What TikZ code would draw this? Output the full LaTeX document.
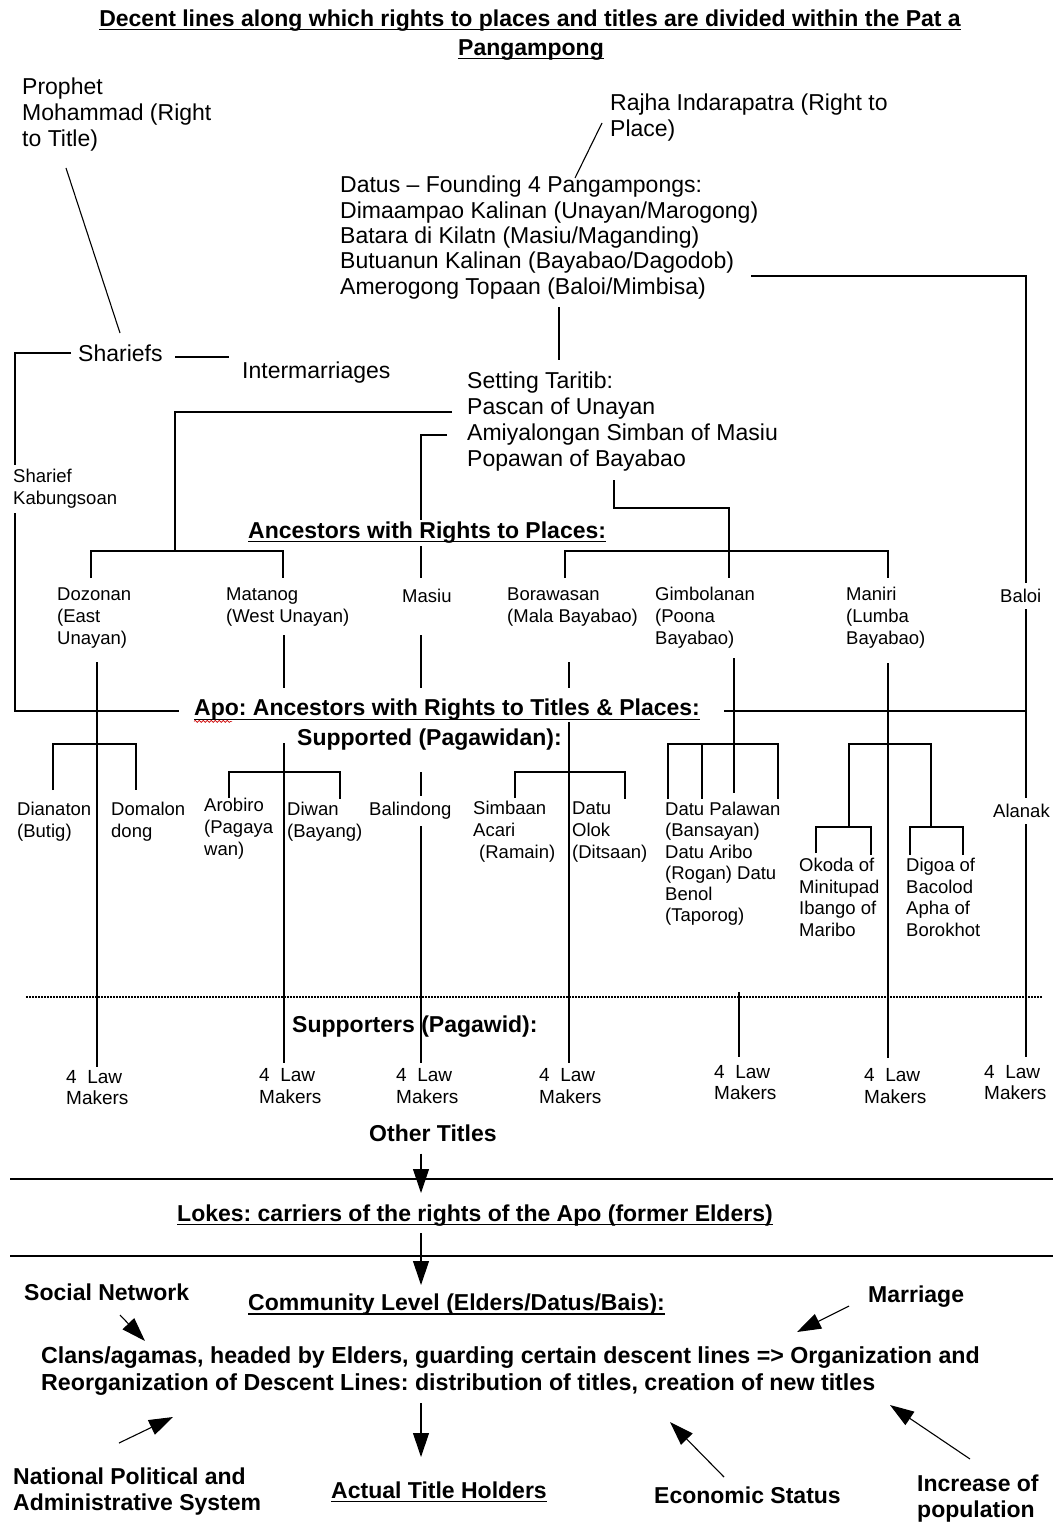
\documentclass[tikz,border=0pt]{standalone}
\usepackage{fontspec}
\setmainfont{Liberation Sans}
\usetikzlibrary{arrows.meta,decorations.pathmorphing}
\frenchspacing
\begin{document}
\begin{tikzpicture}[x=1pt,y=-1pt,
  every node/.style={inner xsep=0pt, inner ysep=2pt, anchor=west, align=left},
  big/.style={font=\fontsize{23}{26}\selectfont},
  mid/.style={font=\fontsize{18.5}{22}\selectfont},
  law/.style={font=\fontsize{19}{21.5}\selectfont},
  bold/.style={font=\fontsize{23}{26}\selectfont\bfseries},
  mask/.style={fill=white},
  ln/.style={line width=1.1pt},
  sep/.style={line width=1.6pt},
  ul/.style={line width=1.1pt},
  arr/.style={line width=1.1pt,-{Triangle[length=24pt,width=16pt]}}
]
\useasboundingbox[fill=white] (0,0) rectangle (1061,1522);

% ---------- connectors of the upper tree ----------
\draw[ln] (602,123) -- (575,178);
\draw[ln] (751,276) -- (1026,276) -- (1026,1057);
\draw[ln] (559,307) -- (559,360);
\draw[ln] (66,168) -- (120,333);
\draw[ln] (71,353) -- (15,353) -- (15,711) -- (179,711);
\draw[ln] (175,357) -- (229,357);
\draw[ln] (452,412) -- (175,412) -- (175,551);
\draw[ln] (91,578) -- (91,551) -- (283,551) -- (283,578);
\draw[ln] (447,435) -- (421,435) -- (421,578);
\draw[ln] (614,480) -- (614,508) -- (729,508) -- (729,578);
\draw[ln] (565,578) -- (565,551) -- (888,551) -- (888,578);

% ---------- descent lines below the ancestors ----------
\draw[ln] (97,662) -- (97,1067);
\draw[ln] (284,635) -- (284,688);
\draw[ln] (284,743) -- (284,1063);
\draw[ln] (421,635) -- (421,688);
\draw[ln] (421,772) -- (421,1063);
\draw[ln] (569,662) -- (569,688);
\draw[ln] (569,722) -- (569,1063);
\draw[ln] (734,658) -- (734,793);
\draw[ln] (888,663) -- (888,1058);
\draw[ln] (724,711) -- (1026,711);
\draw[ln] (739,992) -- (739,1057);

% brackets of the supported lines
\draw[ln] (53,790) -- (53,744) -- (136,744) -- (136,790);
\draw[ln] (229,798) -- (229,772) -- (340,772) -- (340,799);
\draw[ln] (515,798) -- (515,772) -- (625,772) -- (625,799);
\draw[ln] (668,799) -- (668,744) -- (778,744) -- (778,799);
\draw[ln] (702,744) -- (702,799);
\draw[ln] (849,827) -- (849,744) -- (931,744) -- (931,827);
\draw[ln] (816,853) -- (816,827) -- (871,827) -- (871,855);
\draw[ln] (910,855) -- (910,827) -- (963,827) -- (963,855);

% dotted divider
\draw[line width=1.1pt,dash pattern=on 1.5pt off 1.5pt] (26,997) -- (1042,997);

% ---------- title ----------
\node[bold,anchor=center] (t1) at (530,21) {Decent lines along which rights to places and titles are divided within the Pat a};
\node[bold,anchor=center] (t2) at (531,50) {Pangampong};
\draw[ul] ([yshift=-3pt]t1.base west) -- ([yshift=-3pt]t1.base east);
\draw[ul] ([yshift=-3pt]t2.base west) -- ([yshift=-3pt]t2.base east);

% ---------- upper texts ----------
\node[big] (prophet) at (22,115) {Prophet\\Mohammad (Right\\to Title)};
\node[big] (rajha) at (610,117.5) {Rajha Indarapatra (Right to\\Place)};
\node[big,font=\fontsize{23}{25.3}\selectfont] (datus) at (340,237.5) {Datus -- Founding 4 Pangampongs:\\Dimaampao Kalinan (Unayan/Marogong)\\Batara di Kilatn (Masiu/Maganding)\\Butuanun Kalinan (Bayabao/Dagodob)\\Amerogong Topaan (Baloi/Mimbisa)};
\node[big] (shariefs) at (78,353) {Shariefs};
\node[big] (inter) at (242,373) {Intermarriages};
\node[big] (taritib) at (467,422) {Setting Taritib:\\Pascan of Unayan\\Amiyalongan Simban of Masiu\\Popawan of Bayabao};
\node[mid,mask,inner ysep=4pt] (kabung) at (13,489) {Sharief\\Kabungsoan};
\node[bold,mask] (anc) at (248,533) {Ancestors with Rights to Places:};
\draw[ul] ([yshift=-3pt]anc.base west) -- ([yshift=-3pt]anc.base east);

% ---------- ancestors with rights to places ----------
\node[mid] (dozonan) at (57,618) {Dozonan\\(East\\Unayan)};
\node[mid] (matanog) at (226,607) {Matanog\\(West Unayan)};
\node[mid] (masiu) at (402,596) {Masiu};
\node[mid] (borawasan) at (507,607) {Borawasan\\(Mala Bayabao)};
\node[mid] (gimbolanan) at (655,618) {Gimbolanan\\(Poona\\Bayabao)};
\node[mid] (maniri) at (846,618) {Maniri\\(Lumba\\Bayabao)};
\node[mid,mask,inner ysep=6pt] (baloi) at (1000,596) {Baloi};

% ---------- apo ----------
\node[bold] (apo) at (194,710) {Apo: Ancestors with Rights to Titles \& Places:};
\draw[ul] ([yshift=-3.5pt]apo.base west) -- ([yshift=-3.5pt]apo.base east);
\draw[red!80!black,line width=0.6pt,decorate,decoration={snake,amplitude=1pt,segment length=4pt}]
  ([yshift=-5.5pt]apo.base west) -- ([yshift=-5.5pt,xshift=38pt]apo.base west);
\node[bold] (supported) at (297,740) {Supported (Pagawidan):};

% ---------- supported lines ----------
\node[mid] (dianaton) at (17,821.5) {Dianaton\\(Butig)};
\node[mid] (domalon) at (111,821.5) {Domalon\\dong};
\node[mid] (arobiro) at (204,829) {Arobiro\\(Pagaya\\wan)};
\node[mid] (diwan) at (287,821.5) {Diwan\\(Bayang)};
\node[mid,mask,inner ysep=6pt] (balindong) at (369,811) {Balindong};
\node[mid] (simbaan) at (473,832) {Simbaan\\Acari\\\hspace*{6pt}(Ramain)};
\node[mid] (olok) at (572,832) {Datu\\Olok\\(Ditsaan)};
\node[mid,font=\fontsize{18.5}{21.2}\selectfont] (palawan) at (665,864) {Datu Palawan\\(Bansayan)\\Datu Aribo\\(Rogan) Datu\\Benol\\(Taporog)};
\node[mid,font=\fontsize{18.5}{21.7}\selectfont] (okoda) at (799,897.5) {Okoda of\\Minitupad\\Ibango of\\Maribo};
\node[mid,font=\fontsize{18.5}{21.7}\selectfont] (digoa) at (906,897.5) {Digoa of\\Bacolod\\Apha of\\Borokhot};
\node[mid,mask,inner ysep=6pt] (alanak) at (993,811) {Alanak};

% ---------- supporters ----------
\node[bold] (supporters) at (292,1027) {Supporters (Pagawid):};
\node[law] (lm1) at (66,1087.5) {4\ \ Law\\Makers};
\node[law] (lm2) at (259,1086) {4\ \ Law\\Makers};
\node[law] (lm3) at (396,1086) {4\ \ Law\\Makers};
\node[law] (lm4) at (539,1086) {4\ \ Law\\Makers};
\node[law] (lm5) at (714,1082.5) {4\ \ Law\\Makers};
\node[law] (lm6) at (864,1086) {4\ \ Law\\Makers};
\node[law] (lm7) at (984,1082.5) {4\ \ Law\\Makers};

\node[bold] (other) at (369,1133) {Other Titles};
\draw[arr] (other.south -| 421,0) ++(0,10) -- (421,1193);
\draw[sep] (10,1179) -- (1053,1179);

\node[bold] (lokes) at (177,1216) {Lokes: carriers of the rights of the Apo (former Elders)};
\draw[ul] ([yshift=-3pt]lokes.base west) -- ([yshift=-3pt]lokes.base east);
\draw[arr] (421,1233) -- (421,1285);
\draw[sep] (10,1256) -- (1053,1256);

% ---------- community level ----------
\node[bold] (social) at (24,1292) {Social Network};
\node[bold] (community) at (248,1305) {Community Level (Elders/Datus/Bais):};
\draw[ul] ([yshift=-3pt]community.base west) -- ([yshift=-3pt]community.base east);
\node[bold] (marriage) at (868,1297) {Marriage};
\node[bold,font=\fontsize{23.2}{27}\selectfont\bfseries] (clans) at (41,1371.5) {Clans/agamas, headed by Elders, guarding certain descent lines => Organization and\\Reorganization of Descent Lines: distribution of titles, creation of new titles};
\node[bold] (national) at (13,1492) {National Political and\\Administrative System};
\node[bold] (actual) at (331,1490) {Actual Title Holders};
\draw[ul] ([yshift=-3pt]actual.base west) -- ([yshift=-3pt]actual.base east);
\node[bold] (economic) at (654,1495) {Economic Status};
\node[bold] (increase) at (917,1498.5) {Increase of\\population};

\draw[arr] (120,1315) -- (145,1341);
\draw[arr] (849,1306) -- (797,1332);
\draw[arr] (119,1443) -- (173,1417);
\draw[arr] (421,1403) -- (421,1457);
\draw[arr] (724,1477) -- (670,1422);
\draw[arr] (970,1459) -- (890,1405);
\end{tikzpicture}
\end{document}
